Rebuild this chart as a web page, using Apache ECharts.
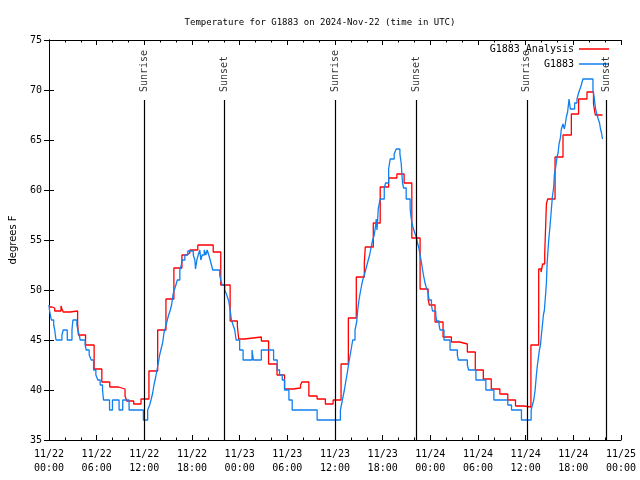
<!DOCTYPE html>
<html>
<head>
<meta charset="utf-8">
<script src="https://cdn.jsdelivr.net/npm/echarts@6/dist/echarts.min.js"></script>
<style>html,body{margin:0;padding:0;background:#fff}#c{width:640px;height:480px}</style>
</head>
<body>
<div id="c"></div>
<script>
// hours since 2024-11-22 00:00 UTC
var xTickLabels = ['11/22\n00:00','11/22\n06:00','11/22\n12:00','11/22\n18:00','11/23\n00:00','11/23\n06:00','11/23\n12:00','11/23\n18:00','11/24\n00:00','11/24\n06:00','11/24\n12:00','11/24\n18:00','11/25\n00:00'];

var analysisHours = [0,0.38,0.72,1.51,1.63,1.79,2.67,3.60,3.70,4.60,5.68,6.65,7.65,8.75,9.57,9.79,10.66,11.58,12.58,13.68,14.72,15.72,16.73,17.28,17.73,18.73,20.67,21.62,22.80,23.71,23.88,24.63,26.73,27.64,28.70,29.65,30.70,31.66,31.83,32.71,33.75,34.79,35.76,36.76,37.68,38.68,39.69,39.81,40.82,41.69,42.75,43.79,44.70,45.67,46.71,47.72,47.87,48.59,49.60,50.65,51.69,52.66,53.66,54.67,55.67,56.75,57.75,58.72,59.76,60.66,61.64,61.94,62.14,62.40,62.61,62.77,63.70,64.70,65.75,66.66,67.72,68.54,68.76,69.67];
var analysisTemps = [48.3,48.2,47.9,48.4,48.1,47.8,47.9,46.7,45.5,44.5,42.1,40.8,40.3,40.1,39.4,38.9,38.6,39.1,41.9,46.0,49.1,52.2,53.5,53.7,54.0,54.5,53.8,50.5,46.9,46.4,45.1,45.3,44.9,42.6,41.5,40.1,40.2,40.5,40.8,39.4,39.1,38.6,39.0,42.6,47.2,51.3,52.7,54.3,56.7,60.3,61.2,61.6,60.7,55.2,50.1,49.1,48.5,46.8,45.3,44.8,44.6,43.8,42.0,41.1,40.1,39.6,39.0,38.4,38.3,44.5,52.1,51.8,52.6,53.7,58.6,59.1,63.3,65.5,67.6,69.1,69.8,68.6,67.5,67.5];

var obsHours = [0,0.06,0.29,0.59,0.72,0.88,1.63,1.79,2.30,2.89,3.01,3.51,3.64,3.80,3.93,4.55,4.68,5.06,5.31,5.61,5.90,6.15,6.44,6.74,6.86,7.62,7.99,8.82,9.28,10.08,11.88,12.42,12.67,12.84,13.05,13.21,13.43,13.59,13.76,13.93,14.14,14.30,14.47,14.68,14.89,15.06,15.27,15.43,15.60,15.77,15.97,16.15,16.47,16.65,16.78,17.10,17.48,18.16,18.36,18.44,18.61,18.78,18.98,19.11,19.28,19.54,19.74,19.91,20.11,20.29,20.45,20.61,21.49,21.62,21.79,22.12,22.37,22.62,22.80,22.96,23.17,23.38,23.55,24.00,24.43,25.56,25.72,26.73,28.27,28.73,29.02,29.36,29.65,30.20,30.61,33.75,36.68,36.93,37.18,37.39,37.60,37.80,38.02,38.23,38.52,38.73,38.86,39.02,39.19,39.36,39.49,39.69,39.86,40.02,40.19,40.36,40.53,40.74,40.94,41.12,41.19,41.28,41.37,41.44,41.69,42.20,42.37,42.75,42.95,43.45,43.70,44.17,44.33,44.50,44.63,44.96,45.46,45.58,45.80,46.05,46.26,46.39,46.55,46.67,46.89,47.09,47.30,47.47,47.64,47.72,47.84,48.14,48.27,48.68,48.81,49.10,49.22,49.72,50.48,51.40,51.53,52.66,52.82,53.74,54.99,56.00,57.75,58.22,59.47,60.69,60.85,61.02,61.19,61.35,61.48,61.60,61.73,61.86,61.98,62.11,62.23,62.36,62.52,62.61,62.70,62.77,62.90,63.02,63.20,63.36,63.53,63.61,63.78,63.95,64.08,64.20,64.37,64.49,64.70,64.87,64.99,65.12,65.28,65.46,65.62,66.16,66.46,66.66,66.88,67.00,67.21,68.47,68.63,68.80,68.92,69.13,69.30,69.42,69.55,69.67];
var obsTemps = [48.5,48.0,47.0,46.5,46.0,45.0,45.5,46.0,45.0,46.0,47.0,46.5,46.0,45.5,45.0,44.5,44.0,43.5,43.0,42.0,41.5,41.0,40.5,40.0,39.0,38.0,39.0,38.0,39.0,38.0,37.0,38.0,38.5,39.0,39.7,40.5,41.3,42.0,42.7,43.5,44.2,44.7,45.7,46.3,47.0,47.5,48.0,48.5,49.5,50.0,50.5,51.0,52.0,52.5,53.0,53.5,53.9,53.5,53.0,52.1,53.0,53.5,54.0,53.0,53.5,54.0,53.5,54.0,53.5,53.0,52.5,52.0,51.5,51.0,50.5,50.0,49.5,48.9,48.0,47.0,46.5,46.0,45.0,44.0,43.0,44.0,43.0,44.0,43.0,42.0,41.5,41.0,40.0,39.0,38.0,37.0,38.0,39.0,40.0,41.0,42.0,43.0,44.0,45.0,46.0,46.8,48.0,49.0,49.8,50.5,51.0,51.5,52.0,52.5,53.0,53.5,54.2,55.0,55.5,56.5,57.1,56.0,57.0,58.1,59.1,60.2,60.7,62.1,63.1,63.6,64.1,63.6,62.7,60.7,60.2,59.1,58.1,57.2,56.3,55.7,55.2,54.7,54.2,53.7,52.7,51.7,50.8,50.3,50.0,49.7,49.0,48.5,47.9,47.5,46.9,46.5,46.0,45.0,44.0,43.5,43.0,42.5,42.0,41.0,40.0,39.0,38.5,38.0,37.0,38.0,38.5,39.0,40.0,41.5,42.5,43.2,44.0,44.5,45.5,46.5,47.5,48.0,49.7,50.7,52.7,53.5,55.0,56.0,57.7,59.3,60.3,61.5,62.3,63.3,63.7,64.6,65.2,66.1,66.6,66.1,66.6,67.3,67.8,69.1,68.1,68.7,69.1,69.7,70.2,70.5,71.1,70.0,69.2,68.1,67.7,67.1,66.7,66.1,65.7,65.1];

var sunNames = ['Sunrise','Sunset','Sunrise','Sunset','Sunrise','Sunset'];
var sunHours = [11.96,22.12,36.05,46.21,60.14,70.18];
var sunLineTop = 69;
var sunLabelAt = 69.8;

function zip(a,b){return a.map(function(v,i){return [v,b[i]];});}

var MONO = 'DejaVu Sans Mono';
var chart = echarts.init(document.getElementById('c'), null, {renderer:'canvas'});
var tickStyle = {show:true, inside:true, length:5, lineStyle:{color:'#000', width:1}};
var minorStyle = {show:true, splitNumber:3, length:2.5, lineStyle:{color:'#000', width:1}};
chart.setOption({
  animation:false,
  backgroundColor:'#fff',
  title:{text:'Temperature for G1883 on 2024-Nov-22 (time in UTC)', left:'center', top:13,
    textStyle:{fontFamily:MONO, fontSize:9, fontWeight:'normal', color:'#000'}},
  legend:{
    data:[{name:'G1883 Analysis', icon:'rect'},{name:'G1883', icon:'rect'}],
    orient:'vertical', right:26, top:38, align:'right', itemWidth:30, itemHeight:1.5, itemGap:3,
    textStyle:{fontFamily:MONO, fontSize:10, color:'#000', lineHeight:12}
  },
  grid:{left:47, right:19, top:40, bottom:40},
  xAxis:[{
    type:'value', min:0, max:72, interval:6,
    axisLine:{show:true, lineStyle:{color:'#000', width:1}},
    axisTick:tickStyle, minorTick:minorStyle, splitLine:{show:false},
    axisLabel:{fontFamily:MONO, fontSize:10, color:'#000', lineHeight:14, margin:7,
      formatter:function(v){return xTickLabels[Math.round(v/6)];}}
  },{
    type:'value', position:'top', min:0, max:72, interval:6,
    axisLine:{show:true, lineStyle:{color:'#000', width:1}},
    axisTick:tickStyle, minorTick:minorStyle, splitLine:{show:false}, axisLabel:{show:false}
  }],
  yAxis:[{
    type:'value', min:35, max:75, interval:5,
    name:'degrees F', nameLocation:'middle', nameGap:31,
    nameTextStyle:{fontFamily:'DejaVu Sans', fontSize:10, color:'#000'},
    axisLine:{show:true, lineStyle:{color:'#000', width:1}},
    axisTick:tickStyle, splitLine:{show:false},
    axisLabel:{fontFamily:MONO, fontSize:10, color:'#000', margin:7}
  },{
    type:'value', position:'right', min:35, max:75, interval:5,
    axisLine:{show:true, lineStyle:{color:'#000', width:1}},
    axisTick:tickStyle, splitLine:{show:false}, axisLabel:{show:false}
  }],
  series:[{
    name:'G1883 Analysis', type:'line', step:'end', showSymbol:false, symbol:'none',
    data:zip(analysisHours, analysisTemps), z:3,
    lineStyle:{color:'#ff0000', width:1.3}, itemStyle:{color:'#ff0000'}
  },{
    name:'G1883', type:'line', step:'end', showSymbol:false, symbol:'none',
    data:zip(obsHours, obsTemps), z:4,
    lineStyle:{color:'#1080f0', width:1.3}, itemStyle:{color:'#1080f0'}
  },{
    name:'sun', type:'scatter', symbolSize:0, z:5,
    data:sunHours.map(function(t,i){return {name:sunNames[i], value:[t, sunLabelAt]};}),
    label:{show:true, position:'inside', rotate:90, align:'left', verticalAlign:'middle',
      formatter:function(p){return p.name;}, fontFamily:MONO, fontSize:10, color:'#000'},
    markLine:{symbol:'none', silent:true, label:{show:false},
      lineStyle:{color:'#000', width:1.2, type:'solid'},
      data:sunHours.map(function(t){return [{coord:[t,35]},{coord:[t,sunLineTop]}];})}
  }]
});
</script>
</body>
</html>
